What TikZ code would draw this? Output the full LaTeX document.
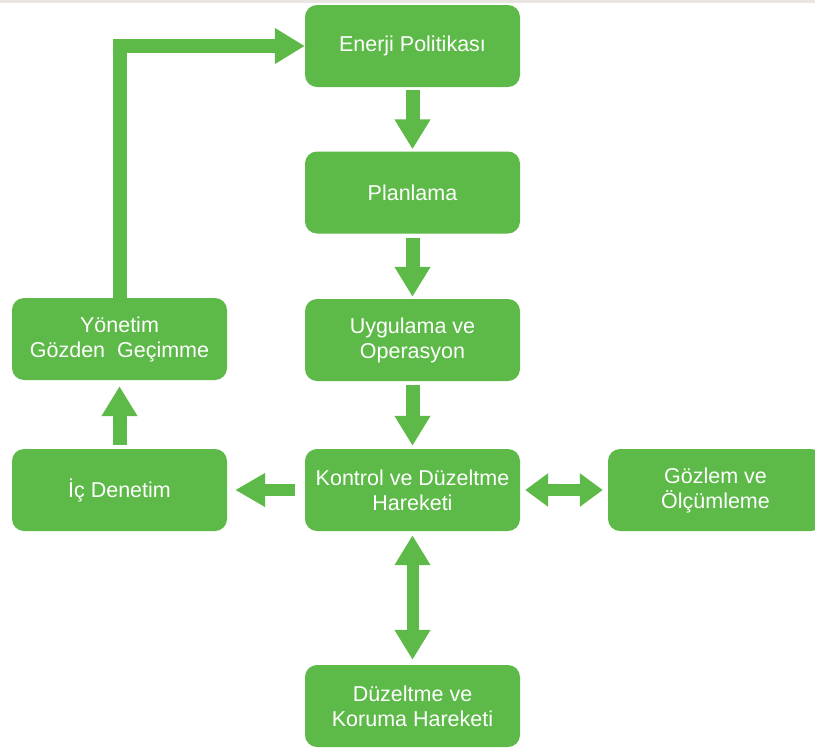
\documentclass[tikz,border=0pt]{standalone}
\usepackage{fontspec}
\setmainfont{Liberation Sans}
\usetikzlibrary{arrows.meta}
\definecolor{grn}{RGB}{93,186,72}
\definecolor{topbar}{RGB}{233,229,225}
\tikzset{
  box/.style={fill=grn, text=white, rounded corners=12pt, minimum width=215pt, minimum height=82pt,
    inner sep=0pt, align=center, font=\fontsize{21.5}{25}\selectfont},
  blk/.style={draw=grn, line width=14pt, line join=miter, -{Triangle[width=34pt,length=30pt]}},
  blkl/.style={draw=grn, line width=12pt, -{Triangle[width=32pt,length=30pt]}},
  dblh/.style={draw=grn, line width=12pt, {Triangle[width=32pt,length=23pt]}-{Triangle[width=32pt,length=23pt]}},
  dblv/.style={draw=grn, line width=12pt, {Triangle[width=34pt,length=30pt]}-{Triangle[width=34pt,length=30pt]}}
}
\begin{document}
\begin{tikzpicture}[x=1pt,y=-1pt]
\useasboundingbox (0,0) rectangle (815,750);
\clip (0,0) rectangle (815,750);
\fill[white] (0,0) rectangle (815,750);
\fill[topbar] (0,0) rectangle (815,2.5);
\node[box] (ep) at (412.5,46) {Enerji Politikası};
\node[box] (pl) at (412.5,192.5) {Planlama};
\node[box] (uo) at (412.5,340) {Uygulama ve\\Operasyon};
\node[box] (kd) at (412.5,490) {Kontrol ve Düzeltme\\Hareketi};
\node[box] (dk) at (412.5,706) {Düzeltme ve\\Koruma Hareketi};
\node[box] (ym) at (119.5,339) {Yönetim\\Gözden\ \ Geçimme};
\node[box] (ic) at (119.5,490) {İç Denetim};
\node[box] (go) at (715.5,490) {Gözlem ve\\Ölçümleme};
\draw[blk] ([yshift=-3pt]ep.south) -- ([yshift=2pt]pl.north);
\draw[blk] ([yshift=-4pt]pl.south) -- ([yshift=2pt]uo.north);
\draw[blk] ([yshift=-4pt]uo.south) -- ([yshift=3pt]kd.north);
\draw[blkl] ([xshift=-10pt]kd.west) -- ([xshift=8pt]ic.east);
\draw[dblh] ([xshift=5pt]kd.east) -- ([xshift=-5pt]go.west);
\draw[dblv] ([yshift=-4pt]kd.south) -- ([yshift=5pt]dk.north);
\draw[blk] ([yshift=4pt]ic.north) -- ([yshift=-6pt]ym.south);
\draw[blk] (ym.north) |- (ep.west);
\end{tikzpicture}
\end{document}
